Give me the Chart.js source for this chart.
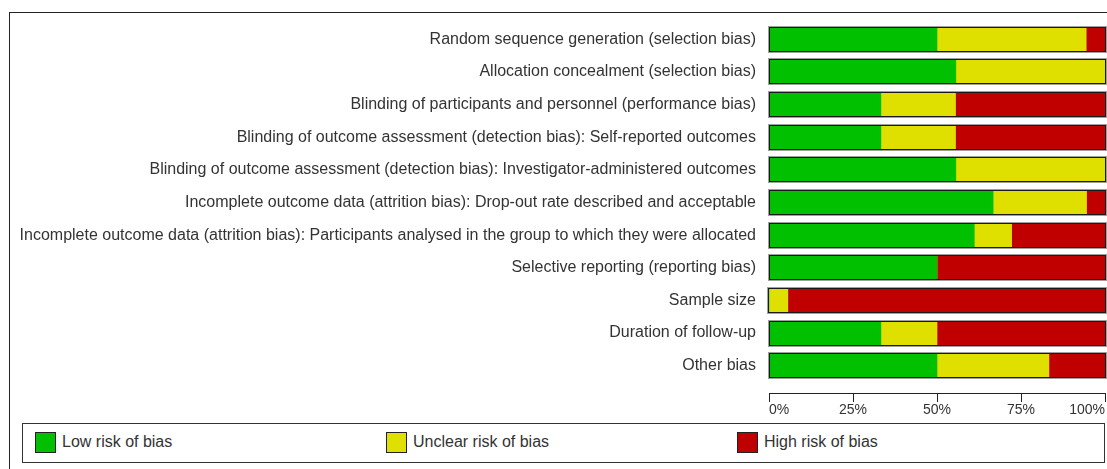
<!DOCTYPE html>
<html>
<head>
<meta charset="utf-8">
<script src="https://cdn.jsdelivr.net/npm/chart.js@4.4.1/dist/chart.umd.min.js"></script>
<style>
    body { margin: 0; background: #fff; font-family: "Liberation Sans", Arial, sans-serif; }
    .page { position: relative; width: 1107px; height: 469px; overflow: hidden; }
    .frame { position: absolute; left: 9px; top: 12px; width: 1110px; height: 470px; border: 1px solid #222; }
    .chart-box { position: absolute; left: 10px; top: 6px; width: 1097px; height: 415px; }
    .legend { position: absolute; left: 22px; top: 423px; width: 1081px; height: 38px; border: 1px solid #333; background: #fff; }
    .legend-item { position: absolute; top: 8px; font-size: 16px; color: #333; line-height: 20px; }
    .legend-item span.swatch { display: inline-block; width: 19px; height: 19px; border: 1px solid #222; vertical-align: top; margin-right: 6px; }
</style>
</head>
<body>
<div class="page">
    <div class="frame"></div>
    <div class="chart-box"><canvas id="riskChart"></canvas></div>
    <div class="legend" id="legend"></div>
</div>
<script>
// Risk of bias domains (top to bottom)
const categories = [
    'Random sequence generation (selection bias)',
    'Allocation concealment (selection bias)',
    'Blinding of participants and personnel (performance bias)',
    'Blinding of outcome assessment (detection bias): Self-reported outcomes',
    'Blinding of outcome assessment (detection bias): Investigator-administered outcomes',
    'Incomplete outcome data (attrition bias): Drop-out rate described and acceptable',
    'Incomplete outcome data (attrition bias): Participants analysed in the group to which they were allocated',
    'Selective reporting (reporting bias)',
    'Sample size',
    'Duration of follow-up',
    'Other bias'
];

// Percent of studies per judgement
const lowRisk     = [50.0, 55.6, 33.3, 33.3, 55.6, 66.7, 61.1, 50.0, 0.0, 33.3, 50.0];
const unclearRisk = [44.4, 44.4, 22.2, 22.2, 44.4, 27.8, 11.1, 0.0, 5.6, 16.7, 33.3];
const highRisk    = [5.6, 0.0, 44.4, 44.4, 0.0, 5.6, 27.8, 50.0, 94.4, 50.0, 16.7];

const seriesNames = ['Low risk of bias', 'Unclear risk of bias', 'High risk of bias'];
const seriesColors = ['#00C000', '#E0E000', '#C00000'];
const tickLabels = ['0%', '25%', '50%', '75%', '100%'];

document.addEventListener('DOMContentLoaded', function() {
    // Outline round each full stacked bar
    const barOutline = {
        id: 'barOutline',
        afterDatasetsDraw(chart) {
            const ctx = chart.ctx;
            const first = chart.getDatasetMeta(0).data;
            const last = chart.getDatasetMeta(chart.data.datasets.length - 1).data;
            ctx.save();
            first.forEach(function(bar, i) {
                const left = Math.round(bar.base);
                const right = Math.round(last[i].x);
                const top = Math.round(bar.y - bar.height / 2);
                const h = Math.round(bar.height);
                ctx.strokeStyle = '#a0a0a0';
                ctx.lineWidth = 1;
                ctx.strokeRect(left - 1.5, top - 1.5, right - left + 3, h + 3);
                ctx.strokeStyle = '#1a1a1a';
                ctx.strokeRect(left - 0.5, top - 0.5, right - left + 1, h + 1);
            });
            ctx.restore();
        }
    };

    const datasets = [lowRisk, unclearRisk, highRisk].map(function(values, i) {
        return {
            label: seriesNames[i],
            data: values,
            backgroundColor: seriesColors[i],
            borderWidth: 0,
            barThickness: 23
        };
    });

    new Chart(document.getElementById('riskChart'), {
        type: 'bar',
        data: { labels: categories, datasets: datasets },
        options: {
            indexAxis: 'y',
            responsive: true,
            maintainAspectRatio: false,
            animation: false,
            layout: { padding: { top: 17, bottom: 39, right: 2, left: 0 } },
            plugins: { legend: { display: false }, tooltip: { enabled: false } },
            scales: {
                x: {
                    stacked: true,
                    min: 0,
                    max: 100,
                    position: { y: 10.85 },
                    grid: { drawOnChartArea: false, color: '#222', tickLength: 8 },
                    border: { color: '#222' },
                    ticks: {
                        stepSize: 25,
                        align: 'inner',
                        padding: 0,
                        color: '#333',
                        font: { family: 'Liberation Sans', size: 14 },
                        callback: function(value, index) { return tickLabels[index]; }
                    }
                },
                y: {
                    stacked: true,
                    grid: { display: false },
                    border: { display: false },
                    ticks: {
                        padding: 5,
                        color: '#333',
                        font: { family: 'Liberation Sans', size: 16 }
                    },
                    afterFit: function(scale) { scale.width = 759; }
                }
            }
        },
        plugins: [barOutline]
    });

    // Legend row
    const legend = document.getElementById('legend');
    const legendLeft = [12, 363, 714];
    seriesNames.forEach(function(name, i) {
        const item = document.createElement('div');
        item.className = 'legend-item';
        item.style.left = legendLeft[i] + 'px';
        item.innerHTML = '<span class="swatch" style="background:' + seriesColors[i] + '"></span>' + name;
        legend.appendChild(item);
    });
});
</script>
</body>
</html>
